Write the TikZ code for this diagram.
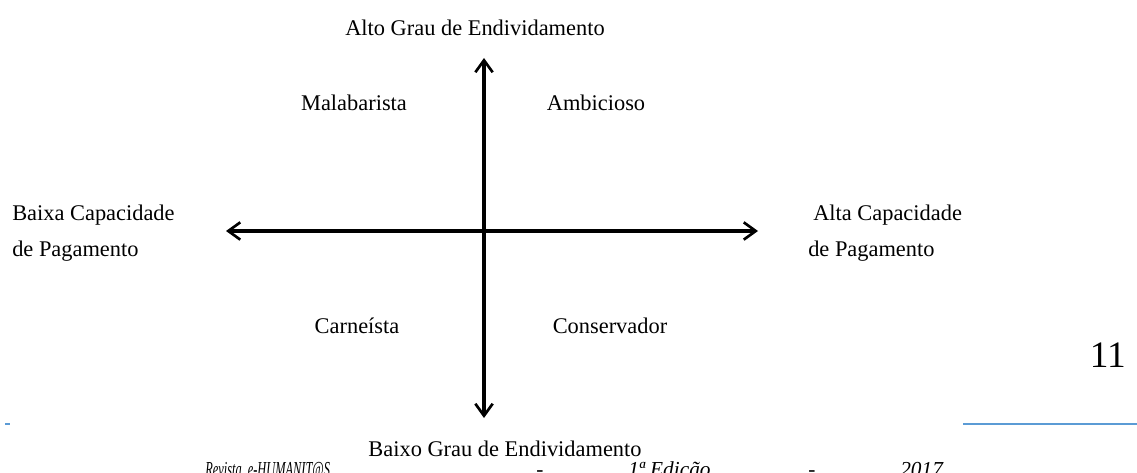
\documentclass[tikz,border=0pt]{standalone}
\usepackage{fontspec}
\setmainfont{Liberation Serif}
\usetikzlibrary{arrows.meta}
\definecolor{rule}{HTML}{5B9BD5}
\tikzset{
  lbl/.style={inner sep=0pt, font=\fontsize{16.8}{20}\selectfont},
  axis/.style={line width=2.3pt, {Straight Barb[length=9pt,width=13pt,line width=2pt]}-{Straight Barb[length=9pt,width=13pt,line width=2pt]}},
  bluerule/.style={draw=rule, line width=1.6pt},
  foot/.style={inner sep=0pt, anchor=base west, font=\fontsize{16}{19}\selectfont\itshape}
}
\begin{document}
\begin{tikzpicture}[x=0.75pt,y=-0.75pt]
\useasboundingbox (0,0) rectangle (1137,473);
\clip (0,0) rectangle (1137,473);
\coordinate (top) at (484,58);
\coordinate (bot) at (484,418);
\coordinate (lft) at (226,231);
\coordinate (rgt) at (758,231);
\draw[axis] (bot) -- (top);
\draw[axis] (lft) -- (rgt);
\node[lbl] (alto) at (475,28) {Alto Grau de Endividamento};
\node[lbl] (baixo) at (505,449) {Baixo Grau de Endividamento};
\node[lbl] (mala) at (354,103) {Malabarista};
\node[lbl] (ambi) at (596,103) {Ambicioso};
\node[lbl] (carn) at (357,326) {Carneísta};
\node[lbl] (cons) at (610,326) {Conservador};
\node[lbl, anchor=west] (bc1) at (12,215) {Baixa Capacidade};
\node[lbl, anchor=west] (bc2) at (12,251) {de Pagamento};
\node[lbl, anchor=west] (ac1) at (813,215) {Alta Capacidade};
\node[lbl, anchor=west] (ac2) at (808,251) {de Pagamento};
\node[inner sep=0pt, anchor=east, font=\fontsize{28}{32}\selectfont] (pg) at (1126,355) {11};
\coordinate (bl1) at (5,424);
\coordinate (bl2) at (10,424);
\coordinate (br1) at (963,424);
\coordinate (br2) at (1137,424);
\draw[bluerule] (bl1) -- (bl2);
\draw[bluerule] (br1) -- (br2);
\node[foot] (f1) at (205,476) {\scalebox{0.58}[1]{Revista\ \ e-HUMANIT@S}};
\node[foot] (f2) at (536,476) {-};
\node[foot] (f3) at (628,476) {1ª Edição};
\node[foot] (f4) at (808,476) {-};
\node[foot] (f5) at (900,476) {2017};
\end{tikzpicture}
\end{document}
